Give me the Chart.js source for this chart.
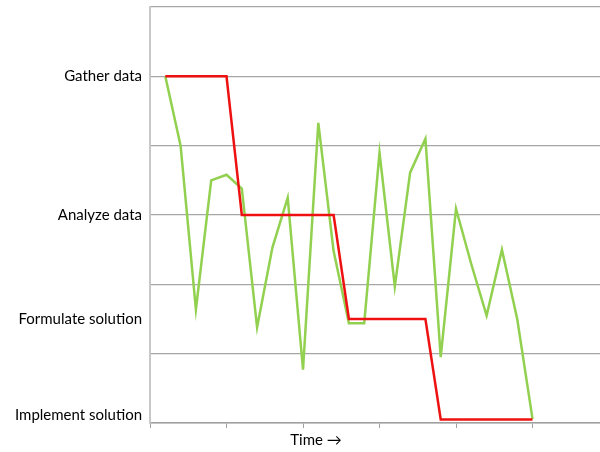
<!DOCTYPE html>
<html>
<head>
<meta charset="utf-8">
<script src="https://cdn.jsdelivr.net/npm/chart.js@4"></script>
<style>
  html, body { margin: 0; padding: 0; background: #fff; }
  #wrap { width: 600px; height: 452px; }
</style>
</head>
<body>
<div id="wrap"><canvas id="myChart"></canvas></div>
<script>
// time steps along the x axis
const timeSteps = [0,1,2,3,4,5,6,7,8,9,10,11,12,13,14,15,16,17,18,19,20,21,22,23,24];
// planned process (step line)
const plannedStage = [5,5,5,5,5, 3,3,3,3,3,3,3, 1.5,1.5,1.5,1.5,1.5,1.5, 0.05,0.05,0.05,0.05,0.05,0.05,0.05];
// actual process (zig-zag)
const actualStage = [5.0,4.0,1.64,3.5,3.58,3.38,1.38,2.53,3.25,0.77,4.33,2.48,1.44,1.44,3.9,1.97,3.61,4.1,0.95,3.09,2.29,1.55,2.5,1.5,0.06];
// stage labels on the y axis and where they sit
const stageNames = ['Gather data', 'Analyze data', 'Formulate solution', 'Implement solution'];
const stageLevels = [5, 3, 1.5, 0.12];
const gridLevels = [0, 1, 2, 3, 4, 5, 6];
// x axis tick marks and the axis title
const xTickSteps = [-1, 4, 9, 14, 19, 24];
const xTitle = 'Time \u2192';
const xTitleAt = 9.85;

const FONT = 'Lato, "Open Sans", sans-serif';

const ctx = document.getElementById('myChart').getContext('2d');
new Chart(ctx, {
    type: 'line',
    data: {
        datasets: [{
            label: 'Planned',
            data: timeSteps.map((t, i) => ({ x: t, y: plannedStage[i] })),
            borderColor: '#ee1111',
            borderWidth: 2.5,
            pointRadius: 0,
            tension: 0,
            fill: false
        }, {
            label: 'Actual',
            data: timeSteps.map((t, i) => ({ x: t, y: actualStage[i] })),
            borderColor: '#92d050',
            borderWidth: 2.5,
            pointRadius: 0,
            tension: 0,
            fill: false
        }]
    },
    options: {
        responsive: true,
        maintainAspectRatio: false,
        animation: false,
        layout: { padding: { top: 7, right: 0, bottom: 0, left: 0 } },
        plugins: {
            legend: { display: false },
            tooltip: { enabled: false }
        },
        scales: {
            x: {
                type: 'linear',
                min: -1,
                max: 28.41,
                afterBuildTicks: (scale) => {
                    scale.ticks = xTickSteps.concat([xTitleAt]).map(v => ({ value: v }));
                },
                afterFit: (scale) => { scale.paddingLeft = 0; scale.paddingRight = 0; },
                ticks: {
                    autoSkip: false,
                    maxRotation: 0,
                    padding: 3,
                    color: '#000',
                    font: { family: FONT, size: 15 },
                    callback: (v) => (v === xTitleAt ? xTitle : '')
                },
                grid: {
                    drawOnChartArea: false,
                    tickLength: 5,
                    tickColor: (c) => (c.tick && c.tick.value === xTitleAt ? 'rgba(0,0,0,0)' : '#a0a0a0')
                },
                border: { color: '#a0a0a0', width: 1.5 }
            },
            y: {
                type: 'linear',
                min: 0,
                max: 6,
                afterBuildTicks: (scale) => {
                    const levels = gridLevels.concat(stageLevels.filter(v => !gridLevels.includes(v)));
                    scale.ticks = levels.sort((a, b) => a - b).map(v => ({ value: v }));
                },
                afterFit: (scale) => {
                    scale.width = 150;
                    scale.paddingTop = 0;
                    scale.paddingBottom = 0;
                },
                ticks: {
                    autoSkip: false,
                    padding: 8,
                    color: '#000',
                    font: { family: FONT, size: 15 },
                    callback: (v) => {
                        const k = stageLevels.indexOf(v);
                        return k >= 0 ? stageNames[k] : '';
                    }
                },
                grid: {
                    drawTicks: false,
                    tickLength: 0,
                    lineWidth: 1.2,
                    color: (c) => (c.tick && gridLevels.includes(c.tick.value) ? '#a6a6a6' : 'rgba(0,0,0,0)')
                },
                border: { color: '#c8c8c8', width: 2 }
            }
        }
    }
});
</script>
</body>
</html>
